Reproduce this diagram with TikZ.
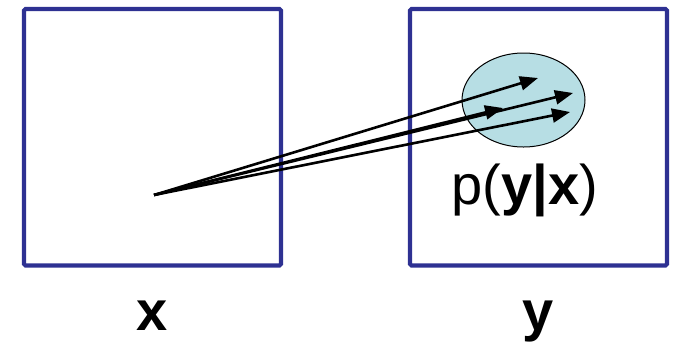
\documentclass[tikz,border=0pt]{standalone}
\usepackage{fontspec}
\setmainfont{Liberation Sans}
\usetikzlibrary{shapes.geometric,arrows.meta}
\definecolor{boxblue}{RGB}{46,49,146}
\definecolor{cloudfill}{RGB}{183,222,228}
\tikzset{
  spacebox/.style={draw=boxblue,line width=4.2pt,rounded corners=1.5pt,minimum width=257pt,minimum height=256.5pt,inner sep=0pt},
  distr/.style={ellipse,draw=black,line width=1pt,fill=cloudfill,minimum width=123pt,minimum height=94pt,inner sep=0pt},
  sample/.style={-{Triangle[length=18pt,width=14pt]},line width=2.6pt,black},
  lbl/.style={font=\fontsize{56}{60}\selectfont,anchor=base,inner sep=0pt}
}
\begin{document}
\begin{tikzpicture}[x=1pt,y=-1pt]
\useasboundingbox (0,0) rectangle (674,341);
\node[spacebox] (X) at (152.5,137.25) {};
\node[spacebox] (Y) at (538.5,137.25) {};
\node[distr] (D) at (523.5,100) {};
\coordinate (o) at (154,195);
\coordinate (t1) at (538,78);
\coordinate (t2) at (503,108);
\coordinate (t3) at (573,93);
\coordinate (t4) at (570,112);
\draw[sample] (o) -- (t1);
\draw[sample] (o) -- (t2);
\draw[sample] (o) -- (t3);
\draw[sample] (o) -- (t4);
\node[lbl] (P) at (525,204) {p(\textbf{y|x})};
\node[lbl] (LX) at (152,330) {\textbf{x}};
\node[lbl] (LY) at (538,330) {\textbf{y}};
\end{tikzpicture}
\end{document}
